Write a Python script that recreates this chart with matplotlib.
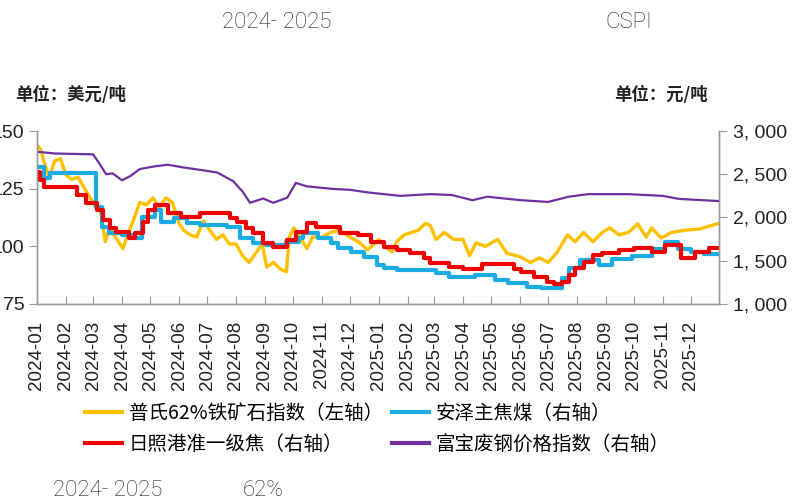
import matplotlib
matplotlib.use('Agg')
import matplotlib.pyplot as plt
import matplotlib.dates as mdates
import matplotlib.ticker as mticker
import pandas as pd

# 普氏62%铁矿石指数（左轴，美元/吨）
ore_dates = ['2024-01-01', '2024-01-05', '2024-01-09', '2024-01-14', '2024-01-20', '2024-01-26',
             '2024-02-01', '2024-02-07', '2024-02-14', '2024-02-21', '2024-02-27', '2024-03-04',
             '2024-03-09', '2024-03-14', '2024-03-19', '2024-03-25', '2024-04-02', '2024-04-08',
             '2024-04-13', '2024-04-20', '2024-04-27', '2024-05-04', '2024-05-11', '2024-05-18',
             '2024-05-25', '2024-06-01', '2024-06-06', '2024-06-13', '2024-06-20', '2024-06-27',
             '2024-07-04', '2024-07-11', '2024-07-18', '2024-07-25', '2024-08-01', '2024-08-08',
             '2024-08-15', '2024-08-22', '2024-08-29', '2024-09-03', '2024-09-10', '2024-09-18',
             '2024-09-24', '2024-09-27', '2024-10-02', '2024-10-10', '2024-10-16', '2024-10-22',
             '2024-11-01', '2024-11-10', '2024-11-20', '2024-12-01', '2024-12-10', '2024-12-20',
             '2025-01-01', '2025-01-10', '2025-01-15', '2025-01-20', '2025-01-28', '2025-02-05',
             '2025-02-12', '2025-02-20', '2025-02-25', '2025-03-03', '2025-03-12', '2025-03-22',
             '2025-04-01', '2025-04-08', '2025-04-15', '2025-04-25', '2025-05-08', '2025-05-18',
             '2025-06-01', '2025-06-12', '2025-06-22', '2025-07-01', '2025-07-10', '2025-07-22',
             '2025-07-30', '2025-08-08', '2025-08-18', '2025-08-28', '2025-09-05', '2025-09-15',
             '2025-09-25', '2025-10-05', '2025-10-14', '2025-10-20', '2025-10-30', '2025-11-10',
             '2025-11-25', '2025-12-10', '2025-12-31']
ore_values = [144, 142, 136, 130, 137, 138,
              131, 129, 130, 125, 121, 117,
              116, 102, 108, 104, 99, 106,
              111, 119, 118, 121, 117, 121,
              119, 110, 107, 105, 104, 111,
              107, 103, 105, 101, 101, 96,
              93, 97, 101, 91, 93, 90,
              89, 104, 108, 103, 99, 104,
              104, 106, 107, 104, 102, 98.5,
              103, 99, 97.6, 102, 105, 106,
              107, 110, 109, 103, 106, 103,
              103, 96, 101.5, 100, 103, 97,
              95.5, 93, 95, 93, 97, 105,
              102, 106, 102, 106, 108, 105,
              106, 109.7, 104, 108, 103.6, 106,
              107, 107.5, 110]

# 安泽主焦煤（右轴，元/吨），按调价日期
coal_dates = ['2024-01-01', '2024-01-08', '2024-01-15', '2024-03-04', '2024-03-11', '2024-03-18',
              '2024-04-01', '2024-04-15', '2024-04-22', '2024-05-06', '2024-05-13', '2024-05-27',
              '2024-06-10', '2024-06-24', '2024-07-22', '2024-08-05', '2024-08-19', '2024-09-02',
              '2024-09-23', '2024-10-07', '2024-10-12', '2024-10-28', '2024-11-11', '2024-11-18',
              '2024-12-02', '2024-12-16', '2024-12-30', '2025-01-06', '2025-01-20', '2025-03-03',
              '2025-03-17', '2025-04-14', '2025-05-05', '2025-05-19', '2025-06-09', '2025-06-23',
              '2025-07-16', '2025-07-23', '2025-08-04', '2025-08-25', '2025-09-08', '2025-09-29',
              '2025-10-20', '2025-11-03', '2025-11-17', '2025-12-01', '2025-12-15', '2025-12-31']
coal_values = [2580, 2460, 2515, 2120, 1890, 1820,
               1800, 1763, 2006, 2087, 1948, 1990,
               1936, 1913, 1890, 1763, 1700, 1682,
               1720, 1763, 1820, 1760, 1705, 1650,
               1600, 1540, 1450, 1416, 1393, 1358,
               1312, 1330, 1277, 1243, 1196, 1185,
               1300, 1416, 1509, 1450, 1520, 1560,
               1640, 1720, 1640, 1600, 1580, 1580]

# 日照港准一级焦（右轴，元/吨）
coke_dates = ['2024-01-01', '2024-01-04', '2024-01-08', '2024-02-13', '2024-02-22', '2024-03-05',
              '2024-03-12', '2024-03-19', '2024-03-26', '2024-04-08', '2024-04-15', '2024-04-23',
              '2024-04-29', '2024-05-06', '2024-05-20', '2024-06-03', '2024-06-24', '2024-07-26',
              '2024-08-02', '2024-08-12', '2024-08-19', '2024-08-30', '2024-09-10', '2024-09-25',
              '2024-10-04', '2024-10-16', '2024-10-26', '2024-11-20', '2024-12-10', '2024-12-23',
              '2025-01-06', '2025-01-20', '2025-02-03', '2025-02-18', '2025-02-25', '2025-03-17',
              '2025-04-01', '2025-04-21', '2025-05-26', '2025-06-02', '2025-06-16', '2025-06-30',
              '2025-07-07', '2025-07-16', '2025-07-23', '2025-07-30', '2025-08-08', '2025-08-18',
              '2025-08-28', '2025-09-15', '2025-10-01', '2025-10-20', '2025-11-03', '2025-11-20',
              '2025-12-05', '2025-12-20', '2025-12-31']
coke_values = [2526, 2433, 2353, 2260, 2168, 2087,
               1971, 1879, 1832, 1763, 1820, 1948,
               2087, 2145, 2052, 2006, 2052, 1990,
               1948, 1880, 1820, 1705, 1659, 1740,
               1832, 1936, 1890, 1820, 1800, 1717,
               1659, 1625, 1590, 1532, 1474, 1430,
               1400, 1460, 1400, 1370, 1312, 1254,
               1230, 1254, 1335, 1416, 1486, 1567,
               1590, 1620, 1650, 1600, 1682, 1532,
               1600, 1650, 1650]

# 富宝废钢价格指数（右轴，元/吨）
scrap_dates = ['2024-01-01', '2024-01-20', '2024-02-10', '2024-03-01', '2024-03-08', '2024-03-15',
               '2024-03-22', '2024-04-01', '2024-04-10', '2024-04-20', '2024-05-05', '2024-05-20',
               '2024-06-05', '2024-06-24', '2024-07-12', '2024-07-29', '2024-08-08', '2024-08-16',
               '2024-08-30', '2024-09-10', '2024-09-25', '2024-10-04', '2024-10-16', '2024-11-13',
               '2024-12-01', '2024-12-20', '2025-01-24', '2025-02-25', '2025-03-20', '2025-04-11',
               '2025-04-27', '2025-06-02', '2025-07-01', '2025-07-23', '2025-08-13', '2025-09-25',
               '2025-11-01', '2025-11-18', '2025-12-31']
scrap_values = [2760, 2740, 2735, 2730, 2620, 2500,
                2510, 2430, 2480, 2560, 2590, 2610,
                2580, 2550, 2520, 2420, 2300, 2170,
                2220, 2170, 2230, 2400, 2360, 2330,
                2320, 2290, 2250, 2270, 2260, 2200,
                2240, 2200, 2180, 2240, 2270, 2270,
                2250, 2215, 2190]

month_ticks = pd.date_range('2024-01-01', '2025-12-01', freq='MS')

plt.rcParams['font.family'] = ['Liberation Sans', 'Noto Sans CJK SC', 'DejaVu Sans']
cjk = ['Noto Sans CJK SC', 'DejaVu Sans']

fig = plt.figure(figsize=(7.94, 5.0), dpi=100)
ax = fig.add_axes([37 / 794, 1 - 304 / 500, (719 - 37) / 794, (304 - 131) / 500])
ax2 = ax.twinx()

grey = '#9A9A9A'
l1, = ax.plot(pd.to_datetime(ore_dates), ore_values, color='#FFC000', lw=2.4,
              label='普氏62%铁矿石指数（左轴）')
l2, = ax2.plot(pd.to_datetime(coal_dates), coal_values, color='#1AACE3', lw=3.0,
               drawstyle='steps-post', label='安泽主焦煤（右轴）')
l3, = ax2.plot(pd.to_datetime(coke_dates), coke_values, color='#F00000', lw=3.0,
               drawstyle='steps-post', label='日照港准一级焦（右轴）')
l4, = ax2.plot(pd.to_datetime(scrap_dates), scrap_values, color='#7030A0', lw=1.6,
               label='富宝废钢价格指数（右轴）')

ax.set_xlim(pd.Timestamp('2024-01-01'), pd.Timestamp('2025-12-31'))
ax.set_ylim(75, 150)
ax.set_yticks([75, 100, 125, 150])
ax2.set_ylim(1000, 3000)
ax2.set_yticks([1000, 1500, 2000, 2500, 3000])
ax2.yaxis.set_major_formatter(mticker.FuncFormatter(lambda v, p: f'{int(v):,}'.replace(',', ', ')))

ax.set_xticks(month_ticks)
ax.xaxis.set_major_formatter(mdates.DateFormatter('%Y-%m'))
ax.tick_params(axis='x', direction='in', length=6, color=grey, labelrotation=90,
               labelsize=13.5, pad=12, labelcolor='#222222')
ax.tick_params(axis='y', direction='out', length=6, color=grey, labelsize=14,
               pad=3, labelcolor='#222222')
ax2.tick_params(axis='y', direction='out', length=6, color=grey, labelsize=14,
                pad=4, labelcolor='#222222')

for a in (ax, ax2):
    a.spines['top'].set_visible(False)
    for s in ('left', 'right', 'bottom'):
        a.spines[s].set_color(grey)
        a.spines[s].set_linewidth(1.0)

fig.text(15 / 794, 1 - 95 / 500, '单位：美元/吨', family=cjk, fontsize=12.5,
         fontweight='bold', va='center', ha='left', color='#222222')
fig.text(708 / 794, 1 - 95 / 500, '单位：元/吨', family=cjk, fontsize=12.5,
         fontweight='bold', va='center', ha='right', color='#222222')

title_font = ['Roboto', 'DejaVu Sans']
fig.text(222 / 794, 1 - 22 / 500, '2024- 2025', family=title_font, fontweight='light',
         fontsize=16, va='center', ha='left', color='#222222')
fig.text(605 / 794, 1 - 22 / 500, 'CSPI', family=title_font, fontweight='light',
         fontsize=16, va='center', ha='left', color='#222222')
fig.text(53 / 794, 1 - 490 / 500, '2024- 2025', family=title_font, fontweight='light',
         fontsize=16, va='center', ha='left', color='#222222')
fig.text(243 / 794, 1 - 490 / 500, '62%', family=title_font, fontweight='light',
         fontsize=16, va='center', ha='left', color='#222222')

# 图例按行排列：第一行 铁矿石、焦煤；第二行 焦炭、废钢
leg = fig.legend(handles=[l1, l3, l2, l4], loc='upper left',
                 bbox_to_anchor=(85 / 794, 1 - 403 / 500), ncol=2, frameon=False,
                 prop={'family': cjk, 'size': 14}, handlelength=1.9, handletextpad=0.35,
                 columnspacing=0.45, labelspacing=0.5, borderpad=0, borderaxespad=0)
for h in leg.get_lines():
    h.set_linewidth(3)
    h.set_drawstyle('default')

fig.savefig('out.png', dpi=100)
